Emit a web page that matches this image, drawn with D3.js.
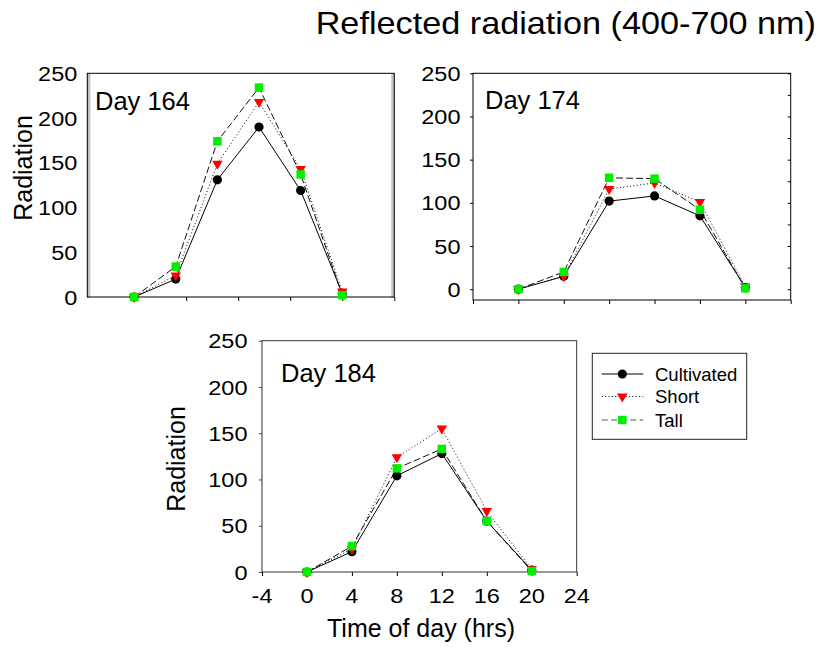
<!DOCTYPE html>
<html>
<head>
<meta charset="utf-8">
<script src="https://cdn.jsdelivr.net/npm/d3@7"></script>
<style>
  html, body { margin: 0; padding: 0; background: #fff; }
  svg { display: block; font-family: "Liberation Sans", Arial, sans-serif; }
</style>
</head>
<body>
<svg id="chart" width="820" height="654"></svg>
<script>
// Sampling times (hours of the day)
const hours = [0, 4, 8, 12, 16, 20];

// Reflected PAR for each stand type, per day
const cultivated164 = [0, 20, 131, 190, 119, 4];
const short164      = [0, 24, 149, 218, 143, 6];
const tall164       = [0, 34, 174, 234, 137, 2];

const cultivated174 = [0, 15, 102, 108, 85, 2];
const short174      = [0, 15, 116, 123, 101, 3];
const tall174       = [0, 20, 129, 128, 92, 1];

const cultivated184 = [0, 22, 104, 128, 55, 2];
const short184      = [0, 25, 124, 155, 66, 3];
const tall184       = [0, 28, 112, 133, 55, 1];

const seriesNames = ["Cultivated", "Short", "Tall"];
const dayLabels = ["Day 164", "Day 174", "Day 184"];
const yTickValues = [0, 50, 100, 150, 200, 250];
const xTickValues = [-4, 0, 4, 8, 12, 16, 20, 24];

const titleText = "Reflected radiation (400-700 nm)";
const yTitle = "Radiation";
const xTitle = "Time of day (hrs)";

// Series styling
const seriesStyle = {
  Cultivated: { dash: null, color: "#000", symbol: "circle", fill: "#000" },
  Short:      { dash: "1,2.4", color: "#000", symbol: "triangle", fill: "#ff0000" },
  Tall:       { dash: "7,3", color: "#111", symbol: "square", fill: "#00ee00" }
};

const svg = d3.select("#chart");
const FS_TICK = 21, SX_TICK = 1.12;

function stretchedText(g, x, y, str, size, anchor, sx) {
  return g.append("text")
    .attr("transform", `translate(${x},${y}) scale(${sx},1)`)
    .attr("text-anchor", anchor)
    .attr("font-size", size)
    .attr("fill", "#000")
    .text(str);
}

function drawMarker(g, name, cx, cy) {
  const st = seriesStyle[name];
  if (st.symbol === "circle") {
    g.append("circle").attr("cx", cx).attr("cy", cy).attr("r", 4.6)
      .attr("fill", st.fill);
  } else if (st.symbol === "square") {
    g.append("path").attr("d", d3.symbol(d3.symbolSquare, 72)())
      .attr("transform", `translate(${cx},${cy})`).attr("fill", st.fill);
  } else {
    g.append("path").attr("d", d3.symbol(d3.symbolTriangle, 48)())
      .attr("transform", `translate(${cx},${cy}) rotate(180)`).attr("fill", st.fill);
  }
}

// Panel layout
const panels = [
  {
    label: dayLabels[0], data: [cultivated164, short164, tall164],
    xRange: [87.3, 394.3], xDomain: [-4.5, 25],
    yRange: [297, 73.3], yDomain: [0, 250],
    xTicks: [0, 5, 10, 15, 20, 25], showXLabels: false,
    yLabelGap: 10, yTitle: { x: 32, y: 168 },
    labelPos: { x: 95, y: 110 }, style: "dense"
  },
  {
    label: dayLabels[1], data: [cultivated174, short174, tall174],
    xRange: [473, 790.7], xDomain: [-4, 24],
    yRange: [300, 73.3], yDomain: [-12.5, 250],
    xTicks: xTickValues, showXLabels: false,
    yLabelGap: 12.5, yTitle: null,
    labelPos: { x: 485, y: 108.5 }, style: "quarter"
  },
  {
    label: dayLabels[2], data: [cultivated184, short184, tall184],
    xRange: [262, 576.7], xDomain: [-4, 24],
    yRange: [572, 340.7], yDomain: [0, 250],
    xTicks: xTickValues, showXLabels: true,
    yLabelGap: 14.5, yTitle: { x: 185, y: 459 },
    labelPos: { x: 281, y: 381.5 }, style: "plain"
  }
];

panels.forEach(p => {
  const x = d3.scaleLinear().domain(p.xDomain).range(p.xRange);
  const y = d3.scaleLinear().domain(p.yDomain).range(p.yRange);
  const g = svg.append("g");
  const [L, R] = p.xRange, [B, T] = p.yRange;

  // Minor tick rulers along the vertical edges
  if (p.style === "dense") {
    const minor = d3.range(0, 251, 1);
    const lg = g.append("g").attr("transform", `translate(${L},0)`)
      .call(d3.axisRight(y).tickValues(minor).tickSize(3).tickFormat(""));
    const rg = g.append("g").attr("transform", `translate(${R},0)`)
      .call(d3.axisLeft(y).tickValues(minor).tickSize(3).tickFormat(""));
    [lg, rg].forEach(a => {
      a.select(".domain").remove();
      a.selectAll("line").attr("stroke", "#777").attr("stroke-width", 0.45);
    });
  } else if (p.style === "quarter") {
    const minor = d3.range(0, 251, 25);
    const rg = g.append("g").attr("transform", `translate(${R},0)`)
      .call(d3.axisLeft(y).tickValues(minor).tickSize(3).tickFormat(""));
    rg.select(".domain").remove();
    rg.selectAll("line").attr("stroke", "#000");
    const lg = g.append("g").attr("transform", `translate(${L},0)`)
      .call(d3.axisLeft(y).tickValues(yTickValues).tickSize(3).tickFormat(""));
    lg.select(".domain").remove();
    lg.selectAll("line").attr("stroke", "#000");
  } else {
    const lg = g.append("g").attr("transform", `translate(${L},0)`)
      .call(d3.axisLeft(y).tickValues(yTickValues).tickSize(3).tickFormat(""));
    lg.select(".domain").remove();
    lg.selectAll("line").attr("stroke", "#444");
  }

  // Bottom axis ticks
  const xa = g.append("g").attr("transform", `translate(0,${B})`)
    .call(d3.axisBottom(x).tickValues(p.xTicks).tickSize(4).tickFormat(""));
  xa.select(".domain").remove();
  xa.selectAll("line").attr("stroke", "#000");

  // Frame
  g.append("rect").attr("x", L).attr("y", T).attr("width", R - L).attr("height", B - T)
    .attr("fill", "none").attr("stroke", p.style === "plain" ? "#333" : "#000").attr("stroke-width", 1);

  // Y tick labels
  yTickValues.forEach(v => {
    stretchedText(g, L - p.yLabelGap, y(v), String(v), FS_TICK, "end", SX_TICK)
      .attr("dy", "0.36em");
  });

  // X tick labels
  if (p.showXLabels) {
    p.xTicks.forEach(v => {
      stretchedText(g, x(v), B + 30.5, String(v), FS_TICK, "middle", SX_TICK);
    });
    g.append("text").attr("x", 421).attr("y", 637)
      .attr("text-anchor", "middle").attr("font-size", 25).text(xTitle);
  }

  // Y title
  if (p.yTitle) {
    g.append("text")
      .attr("transform", `translate(${p.yTitle.x},${p.yTitle.y}) rotate(-90)`)
      .attr("text-anchor", "middle").attr("font-size", 25).text(yTitle);
  }

  // Day label
  g.append("text").attr("x", p.labelPos.x).attr("y", p.labelPos.y)
    .attr("font-size", 25.5).text(p.label);

  // Series lines then markers
  p.data.forEach((vals, i) => {
    const name = seriesNames[i];
    const st = seriesStyle[name];
    const line = d3.line().x((d, j) => x(hours[j])).y(d => y(d));
    g.append("path").datum(vals).attr("d", line)
      .attr("fill", "none").attr("stroke", st.color).attr("stroke-width", 1)
      .attr("stroke-dasharray", st.dash);
  });
  p.data.forEach((vals, i) => {
    const name = seriesNames[i];
    vals.forEach((v, j) => drawMarker(g, name, x(hours[j]), y(v)));
  });
});

// Legend
const lg = svg.append("g");
lg.append("rect").attr("x", 592.3).attr("y", 353.3).attr("width", 154.4).attr("height", 86)
  .attr("fill", "#fff").attr("stroke", "#222").attr("stroke-width", 1);
const legendRows = [374, 396.5, 420];
seriesNames.forEach((name, i) => {
  const st = seriesStyle[name];
  const ry = legendRows[i];
  lg.append("line").attr("x1", 601.7).attr("x2", 643.3).attr("y1", ry).attr("y2", ry)
    .attr("stroke", name === "Tall" ? "#555" : "#000").attr("stroke-width", 1)
    .attr("stroke-dasharray", name === "Tall" ? "6,3.5" : st.dash);
  drawMarker(lg, name, 622.3, ry);
  lg.append("text").attr("x", 655).attr("y", ry).attr("dy", "0.36em")
    .attr("font-size", 18.5).text(name);
});

// Title
stretchedText(svg, 816, 34, titleText, 32, "end", 1.07);
</script>
</body>
</html>
